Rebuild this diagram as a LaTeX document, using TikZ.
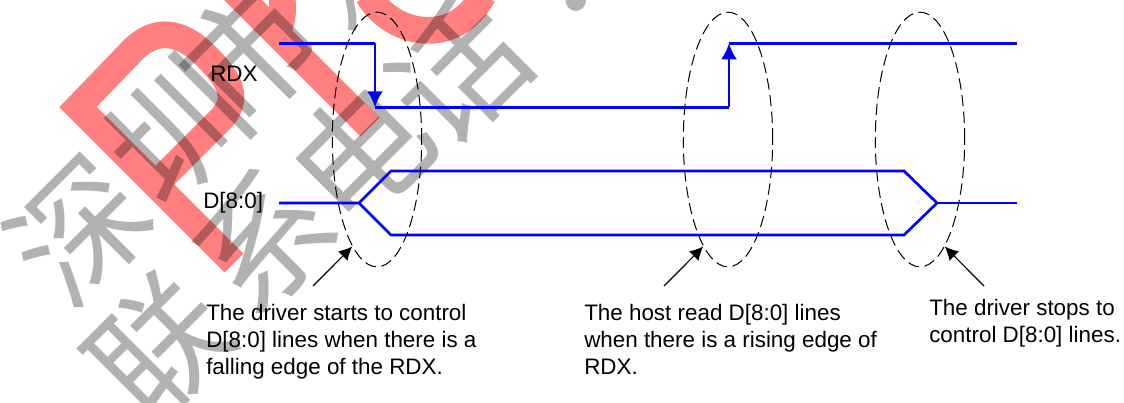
\documentclass[tikz,border=0pt]{standalone}
\usepackage{fontspec}
\setmainfont{Liberation Sans}
\newfontfamily\cjkfont{Noto Sans CJK SC}
\usetikzlibrary{shapes.geometric,arrows.meta}
\definecolor{sigblue}{RGB}{0,0,255}
\begin{document}
\begin{tikzpicture}[x=0.75pt,y=-0.75pt]
    \tikzstyle{label} = [inner sep=0pt, anchor=west, align=left, font=\fontsize{16.8}{20.25}\selectfont]
    \tikzstyle{wave} = [draw=sigblue, line width=2pt, line join=miter]
    \tikzstyle{edge} = [-{Latex[length=12pt,width=12pt]}, draw=sigblue, line width=2pt]
    \tikzstyle{window} = [ellipse, draw=black, dashed, dash pattern=on 8.5pt off 4pt, line width=0.75pt, minimum width=67pt, minimum height=191pt, inner sep=0pt]
    \tikzstyle{callout} = [-{Latex[length=10pt,width=10pt]}, draw=black, line width=0.9pt]
    \tikzstyle{wmark} = [inner sep=0pt, rotate=45, text=black, text opacity=0.3, font=\cjkfont\fontsize{100}{100}\selectfont]
    \tikzstyle{logo} = [draw=red, draw opacity=0.5, line width=20pt, line join=miter]
    \useasboundingbox (0,0) rectangle (1124,403);

    % watermark
    \draw[logo] (234,263) -- (78,107) -- (133,50) .. controls (155,28) and (180,30) .. (205,55) .. controls (225,75) and (242,95) .. (222,118) -- (155,185)
        (370,127) -- (225,-18)
        (272,38) .. controls (284,24) and (284,10) .. (281,-10)
        (368,-5) .. controls (392,36) and (455,48) .. (483,-5);
    \node[wmark] (shen) at (79,230) {深};
    \node[wmark] (zhen) at (177,130) {圳};
    \node[wmark] (shi) at (250,52) {市};
    \node[wmark] (lian) at (160,347) {联};
    \node[wmark] (xi) at (264,240) {系};
    \node[wmark] (dian) at (360,153) {电};
    \node[wmark] (hua) at (458,72) {话};
    \node[wmark] (colon) at (577,-45) {：};
    \draw[black, opacity=0.3, line width=6pt] (349,-2) .. controls (352,10) and (353,20) .. (352,30);

    % signals
    \coordinate (rdxa) at (279,43.3);
    \coordinate (rdxb) at (375,43.3);
    \coordinate (rdxc) at (375,107.3);
    \coordinate (rdxd) at (729,107.3);
    \coordinate (rdxe) at (729,43.3);
    \coordinate (rdxf) at (1017,43.3);
    \coordinate (da) at (279,203);
    \coordinate (db) at (359,203);
    \coordinate (dc) at (391,171);
    \coordinate (dd) at (391,235);
    \coordinate (de) at (904,171);
    \coordinate (df) at (904,235);
    \coordinate (dg) at (937,203);
    \coordinate (dh) at (1017,203);

    \draw[wave] (rdxa) -- (rdxb);
    \draw[edge] (rdxb) -- (rdxc);
    \draw[wave] (rdxc) -- (rdxd);
    \draw[edge] (rdxd) -- (rdxe);
    \draw[wave] (rdxe) -- (rdxf);
    \draw[wave] (da) -- (db) -- (dc) -- (de) -- (dg) -- (df) -- (dd) -- (db);
    \draw[wave] (dg) -- (dh);

    \node (rdx) [label] at (210,74) {RDX};
    \node (data) [label] at (203,203) {D[8:0]};

    % windows
    \node (fall) [window] at (377,139.5) {};
    \node (read) [window] at (728,139.5) {};
    \node (stop) [window] at (920,139.5) {};

    \node (starts) [label] at (206,342) {The driver starts to control\\D[8:0] lines when there is a\\falling edge of the RDX.};
    \node (host) [label] at (584,339) {The host read D[8:0] lines\\when there is a rising edge of\\RDX.};
    \node (stops) [label] at (929,323.5) {The driver stops to\\control D[8:0] lines.};

    \coordinate (startsp) at (313,286);
    \coordinate (hostp) at (664,286);
    \coordinate (stopsp) at (984,286);
    \draw[callout] (startsp) -- (fall.257);
    \draw[callout] (hostp) -- (read.257);
    \draw[callout] (stopsp) -- (stop.283);
\end{tikzpicture}
\end{document}
